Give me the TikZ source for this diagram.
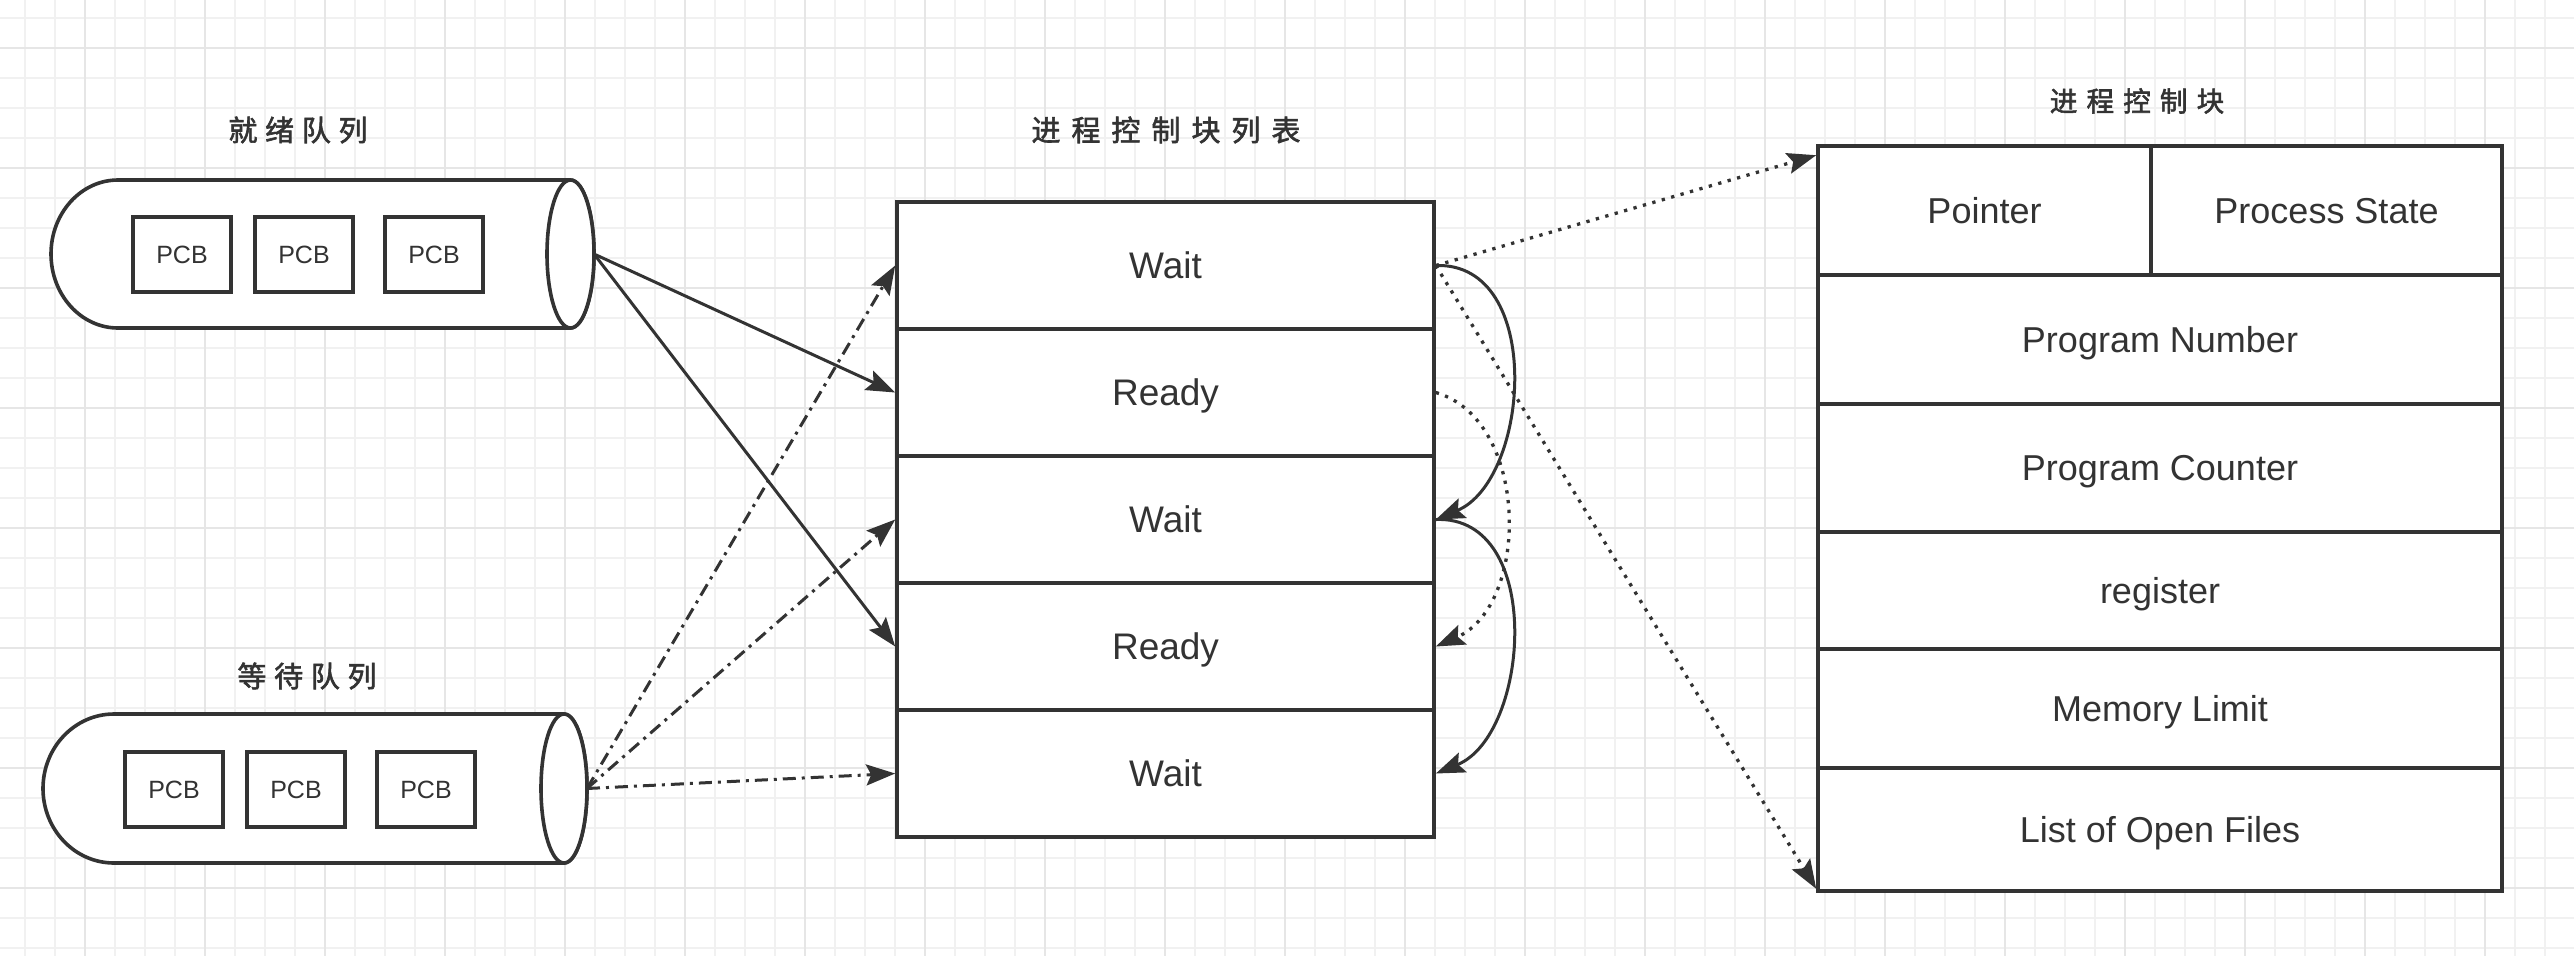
\documentclass[tikz,border=0pt]{standalone}
\usepackage{fontspec}
\setmainfont{Liberation Sans}
\newfontfamily\cjk[FakeBold=2]{Noto Sans CJK SC}
\usetikzlibrary{arrows.meta}
\definecolor{ink}{HTML}{333333}
\definecolor{gridminor}{HTML}{F1F1F1}
\definecolor{gridmajor}{HTML}{E6E6E6}
\begin{document}
\begin{tikzpicture}[x=1pt,y=-1pt,
  shapeline/.style={draw=ink, line width=3.6pt, fill=white},
  cell/.style={shapeline, inner sep=0pt, text=ink, font=\fontsize{37pt}{42pt}\selectfont, text height=26.5pt, text depth=0pt},
  tcell/.style={cell, font=\fontsize{36pt}{41pt}\selectfont, text height=25.8pt},
  pcb/.style={shapeline, inner sep=0pt, minimum width=98pt, minimum height=75pt, text=ink, font=\fontsize{25pt}{28pt}\selectfont, text height=17.9pt, text depth=0pt},
  title/.style={text=ink, font=\cjk\fontsize{29pt}{32pt}\selectfont, inner sep=0pt},
  tip/.style={-{Stealth[length=29pt,width=21pt,inset=5pt]}},
  solidconn/.style={draw=ink, line width=3pt, tip},
  dashdotconn/.style={draw=ink, line width=3pt, dash pattern=on 13pt off 6pt on 3pt off 6pt, tip},
  dotconn/.style={draw=ink, line width=3.3pt, dash pattern=on 3.3pt off 6.5pt, tip},
  minorline/.style={draw=gridminor, line width=2pt},
  majorline/.style={draw=gridmajor, line width=2pt},
]
\useasboundingbox (0,0) rectangle (2574,956);
\fill[white] (0,0) rectangle (2574,956);
% grid
\foreach \x in {25,55,...,2574} \draw[minorline] (\x,0) -- (\x,956);
\foreach \y in {18,48,...,956} \draw[minorline] (0,\y) -- (2574,\y);
\foreach \x in {85,205,...,2574} \draw[majorline] (\x,0) -- (\x,956);
\foreach \y in {48,168,...,956} \draw[majorline] (0,\y) -- (2574,\y);

% titles
\node[title] (tready) at (298,130) {就\hspace{7.7pt}绪\hspace{7.7pt}队\hspace{7.7pt}列};
\node[title] (twait) at (307,676) {等\hspace{7.7pt}待\hspace{7.7pt}队\hspace{7.7pt}列};
\node[title] (tlist) at (1166,130) {进\hspace{11pt}程\hspace{11pt}控\hspace{11pt}制\hspace{11pt}块\hspace{11pt}列\hspace{11pt}表};
\node[title, font=\cjk\fontsize{27.5pt}{30pt}\selectfont] (tpcb) at (2137,101) {进\hspace{9.2pt}程\hspace{9.2pt}控\hspace{9.2pt}制\hspace{9.2pt}块};

% ready queue cylinder
\filldraw[shapeline] (118,180) -- (570.5,180) arc[start angle=90, end angle=-90, x radius=23.5pt, y radius=74pt] -- (118,328) arc[start angle=270, end angle=90, x radius=67pt, y radius=74pt] -- cycle;
\draw[shapeline] (570.5,254) ellipse [x radius=23.5pt, y radius=74pt];
\coordinate (rq) at (594,254);
\node[pcb] (rp1) at (182,254.5) {PCB};
\node[pcb] (rp2) at (304,254.5) {PCB};
\node[pcb] (rp3) at (434,254.5) {PCB};

% wait queue cylinder
\filldraw[shapeline] (114,714) -- (564,714) arc[start angle=90, end angle=-90, x radius=23pt, y radius=74.5pt] -- (114,863) arc[start angle=270, end angle=90, x radius=71pt, y radius=74.5pt] -- cycle;
\draw[shapeline] (564,788.5) ellipse [x radius=23pt, y radius=74.5pt];
\coordinate (wq) at (587,788.5);
\node[pcb] (wp1) at (174,789.5) {PCB};
\node[pcb] (wp2) at (296,789.5) {PCB};
\node[pcb] (wp3) at (426,789.5) {PCB};

% process control block list
\node[cell, minimum width=537pt, minimum height=127pt] (r1) at (1165.5,265.5) {Wait};
\node[cell, minimum width=537pt, minimum height=127pt] (r2) at (1165.5,392.5) {Ready};
\node[cell, minimum width=537pt, minimum height=127pt] (r3) at (1165.5,519.5) {Wait};
\node[cell, minimum width=537pt, minimum height=127pt] (r4) at (1165.5,646.5) {Ready};
\node[cell, minimum width=537pt, minimum height=127pt] (r5) at (1165.5,773.5) {Wait};

% process control block
\node[tcell, minimum width=333pt, minimum height=129pt] (c1) at (1984.5,210.5) {Pointer};
\node[tcell, minimum width=351pt, minimum height=129pt] (c2) at (2326.5,210.5) {Process State};
\node[tcell, minimum width=684pt, minimum height=129pt] (c3) at (2160,339.5) {Program Number};
\node[tcell, minimum width=684pt, minimum height=128pt] (c4) at (2160,468) {Program Counter};
\node[tcell, minimum width=684pt, minimum height=117pt] (c5) at (2160,590.5) {register};
\node[tcell, minimum width=684pt, minimum height=119pt] (c6) at (2160,708.5) {Memory Limit};
\node[tcell, minimum width=684pt, minimum height=123pt] (c7) at (2160,829.5) {List of Open Files};
\coordinate (ptop) at ([yshift=-11pt]c1.north west);
\coordinate (pbot) at ([yshift=4pt]c7.south west);

% connectors
\draw[solidconn] (rq) -- (r2.west);
\draw[solidconn] (rq) -- (r4.west);
\draw[dashdotconn] (wq) -- (r1.west);
\draw[dashdotconn] (wq) -- (r3.west);
\draw[dashdotconn] (wq) -- (r5.west);
\draw[solidconn] (r1.east) .. controls (1545,262) and (1530,480) .. (r3.east);
\draw[solidconn] (r3.east) .. controls (1545,515) and (1530,735) .. (r5.east);
\draw[dotconn] (r2.east) .. controls (1530,420) and (1530,605) .. (r4.east);
\draw[dotconn] (r1.east) -- (ptop);
\draw[dotconn] (r1.east) -- (pbot);
\end{tikzpicture}
\end{document}
